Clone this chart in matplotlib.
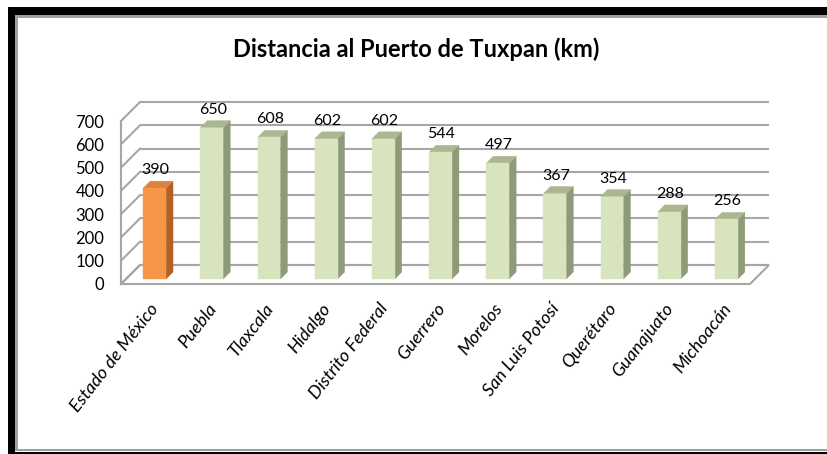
import matplotlib
matplotlib.use("Agg")
import matplotlib.pyplot as plt
from matplotlib.patches import Polygon, Rectangle

plt.rcParams["font.family"] = ["Lato", "DejaVu Sans"]

# Data
estados = ["Estado de México", "Puebla", "Tlaxcala", "Hidalgo", "Distrito Federal",
           "Guerrero", "Morelos", "San Luis Potosí", "Querétaro", "Guanajuato", "Michoacán"]
distancias = [390, 650, 608, 602, 602, 544, 497, 367, 354, 288, 256]
y_ticks = [0, 100, 200, 300, 400, 500, 600, 700]
titulo = "Distancia al Puerto de Tuxpan (km)"

# Figure geometry (pixels)
W, H, DPI = 828, 454, 100
fig = plt.figure(figsize=(W / DPI, H / DPI), dpi=DPI)
fig.patch.set_facecolor("white")

# Front plane of the pseudo-3D plot area
ax = fig.add_axes([121 / W, (H - 284) / H, 629 / W, 163 / H])
n = len(estados)
ax.set_xlim(-0.5, n - 0.5)
ax.set_ylim(0, y_ticks[-1])
ax.patch.set_visible(False)
for s in ax.spines.values():
    s.set_visible(False)

# Pixel scale of the data axes, used for the oblique depth offset
p0 = ax.transData.transform((0, 0))
p1 = ax.transData.transform((1, 1))
ppx, ppy = p1[0] - p0[0], p1[1] - p0[1]


def proj(x, y, d):
    """Shift a front-plane data point back by d pixels of depth (45° oblique)."""
    return (x + d / ppx, y + d / ppy)


DEPTH = 19          # wall depth in pixels
D0, D1 = 5, 12      # bar front / back depth in pixels
BW = 0.40           # bar width in category units
grid_c = "#a6a6a6"
grid_lw = 1.5

x_left, x_right = -0.5, n - 0.5

# Floor
floor = Polygon([proj(x_left, 0, 0), proj(x_right, 0, 0),
                 proj(x_right, 0, DEPTH), proj(x_left, 0, DEPTH)],
                closed=True, facecolor="white", edgecolor=grid_c, lw=grid_lw,
                clip_on=False, zorder=1)
ax.add_patch(floor)

# Back wall gridlines and left wall lines
for v in y_ticks:
    a, b = proj(x_left, v, DEPTH), proj(x_right, v, DEPTH)
    ax.plot([a[0], b[0]], [a[1], b[1]], color=grid_c, lw=grid_lw,
            clip_on=False, zorder=2, solid_capstyle="butt")
    c = proj(x_left, v, 0)
    ax.plot([c[0], a[0]], [c[1], a[1]], color=grid_c, lw=grid_lw,
            clip_on=False, zorder=2)
ax.plot([x_left, x_left], [0, y_ticks[-1]], color=grid_c, lw=grid_lw,
        clip_on=False, zorder=2)

# Bars
orange = ("#F79646", "#DD8040", "#B1622A")   # front, top, side
green = ("#D7E4BD", "#AAB790", "#8F9B78")

for i, v in enumerate(distancias):
    front_c, top_c, side_c = orange if i == 0 else green
    x0, x1 = i - BW / 2, i + BW / 2
    front = [proj(x0, 0, D0), proj(x1, 0, D0), proj(x1, v, D0), proj(x0, v, D0)]
    side = [proj(x1, 0, D0), proj(x1, 0, D1), proj(x1, v, D1), proj(x1, v, D0)]
    top = [proj(x0, v, D0), proj(x1, v, D0), proj(x1, v, D1), proj(x0, v, D1)]
    for pts, col in ((side, side_c), (top, top_c), (front, front_c)):
        ax.add_patch(Polygon(pts, closed=True, facecolor=col, edgecolor=col,
                             lw=0.3, clip_on=False, zorder=3))
    lx = proj(i, v, D0)[0]
    ly = proj(i, v, D1)[1]
    ax.annotate(str(v), (lx, ly), xytext=(1, 4), textcoords="offset pixels",
                ha="center", va="bottom", fontsize=11.5, color="black",
                annotation_clip=False, zorder=4)

# Axis labels
ax.set_yticks(y_ticks)
ax.set_yticklabels([str(t) for t in y_ticks])
ax.tick_params(axis="y", length=0, pad=12, labelsize=12)
ax.set_xticks(range(n))
ax.set_xticklabels(estados, rotation=52, ha="right", rotation_mode="anchor",
                   fontsize=13, fontstyle="italic")
ax.tick_params(axis="x", length=0, pad=12)

# Title
fig.text(416 / W, 1 - 49 / H, titulo, ha="center", va="center",
         fontsize=17, fontweight="bold")


# Frame around the chart
def px_rect(x0, y0, x1, y1, color):
    fig.add_artist(Rectangle((x0 / W, 1 - y1 / H), (x1 - x0) / W, (y1 - y0) / H,
                             transform=fig.transFigure, facecolor=color,
                             edgecolor="none", zorder=0))


px_rect(8, 7, W, 15, "black")
px_rect(8, 7, 15.5, H, "black")
px_rect(8, 452, W, H, "black")
px_rect(15.5, 15, W, 17.5, "#a0a0a0")
px_rect(15.5, 15, 18, 451, "#a0a0a0")
px_rect(15.5, 448.5, W, 451, "#a0a0a0")

fig.savefig("out.png", dpi=DPI)
